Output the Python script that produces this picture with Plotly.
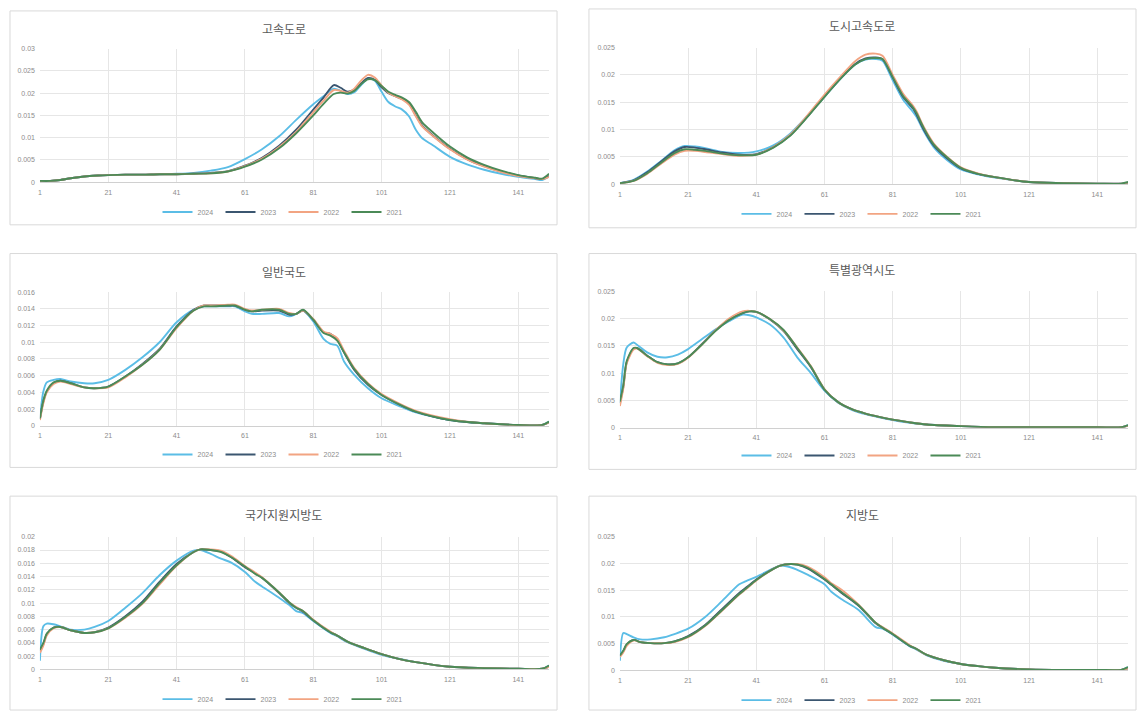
import plotly.graph_objects as go

W, H = 1138, 715

YEARS = ["2024", "2023", "2022", "2021"]
COLORS = {"2024": "#5bbde6", "2023": "#3b5670", "2022": "#f2a482", "2021": "#4b8a57"}
X_TICKS = [1, 21, 41, 61, 81, 101, 121, 141]

# 고속도로
HW_X = [1, 4, 7, 10, 14, 18, 21, 26, 31, 36, 41, 46, 51, 56, 61, 66, 71, 76, 81, 84, 87, 89, 91, 93, 95, 97, 99, 101,
        103, 105, 107, 109, 111, 113, 116, 121, 126, 131, 136, 141, 146, 148, 150]
HW_2024 = [.0003, .0003, .0005, .0009, .0013, .0015, .0016, .0017, .0017, .0018, .0019, .0021, .0026, .0034, .0052,
           .0074, .0103, .0140, .0175, .0193, .0210, .0205, .0198, .0202, .0218, .0232, .0228, .0203,
           .0180, .0170, .0163, .0148, .0118, .0098, .0083, .0057, .0040, .0028, .0019, .0012, .0007, .0005, .0013]
HW_2023 = [.0003, .0003, .0005, .0009, .0013, .0015, .0016, .0017, .0017, .0018, .0018, .0019, .0021, .0025, .0037,
           .0055, .0082, .0118, .0163, .0190, .0218, .0212, .0203, .0208, .0222, .0234, .0230, .0213,
           .0200, .0193, .0187, .0177, .0150, .0126, .0105, .0075, .0052, .0036, .0024, .0015, .0009, .0007, .0014]
HW_2022 = [.0003, .0003, .0005, .0009, .0013, .0015, .0016, .0017, .0017, .0018, .0018, .0019, .0020, .0024, .0036,
           .0053, .0079, .0113, .0157, .0183, .0207, .0205, .0201, .0210, .0228, .0241, .0235, .0217,
           .0201, .0193, .0186, .0174, .0148, .0124, .0104, .0074, .0051, .0035, .0023, .0014, .0009, .0007, .0012]
HW_2021 = [.0003, .0003, .0005, .0009, .0013, .0015, .0016, .0017, .0017, .0018, .0018, .0019, .0020, .0024, .0035,
           .0051, .0076, .0110, .0150, .0176, .0198, .0201, .0199, .0205, .0220, .0231, .0229, .0216,
           .0203, .0196, .0190, .0180, .0158, .0133, .0112, .0080, .0056, .0039, .0026, .0016, .0010, .0008, .0019]

# 도시고속도로
UE_X = [1, 5, 9, 13, 17, 20, 23, 26, 31, 36, 41, 46, 51, 56, 61, 66, 70, 73, 76, 78, 81, 84, 87, 88, 90,
        93, 97, 101, 106, 111, 121, 131, 141, 148, 150]
UE_2024 = [.0002, .0008, .0023, .0042, .0062, .0070, .0069, .0066, .0059, .0057, .0060, .0071, .0093, .0125, .0160,
           .0195, .0219, .0228, .0229, .0226, .0190, .0155, .0132, .0123, .0098,
           .0068, .0044, .0027, .0018, .0012, .0004, .0002, .0001, .0001, .0003]
UE_2023 = [.0002, .0007, .0022, .0041, .0060, .0068, .0067, .0064, .0058, .0054, .0055, .0068, .0090, .0124, .0161,
           .0196, .0220, .0230, .0232, .0229, .0195, .0160, .0138, .0127, .0101,
           .0071, .0047, .0029, .0019, .0013, .0004, .0002, .0001, .0001, .0003]
UE_2022 = [.0002, .0006, .0019, .0037, .0054, .0061, .0061, .0059, .0055, .0052, .0054, .0068, .0091, .0126, .0164,
           .0199, .0225, .0237, .0239, .0235, .0200, .0166, .0143, .0133, .0106,
           .0075, .0050, .0031, .0020, .0013, .0004, .0002, .0001, .0001, .0003]
UE_2021 = [.0002, .0006, .0020, .0039, .0057, .0064, .0063, .0061, .0056, .0053, .0054, .0067, .0089, .0123, .0160,
           .0195, .0219, .0229, .0231, .0229, .0196, .0162, .0140, .0130, .0104,
           .0073, .0049, .0030, .0019, .0013, .0004, .0002, .0001, .0001, .0004]

# 일반국도
NR_X = [1, 2, 3, 5, 7, 10, 14, 17, 21, 26, 31, 36, 41, 46, 49, 51, 56, 58, 61, 63, 66, 71, 74, 76, 78, 81,
        84, 86, 88, 90, 93, 97, 101, 106, 111, 121, 131, 141, 148, 150]
NR_2024 = [.0008, .0041, .0052, .0055, .0056, .0053, .0051, .0051, .0055, .0067, .0082, .0100, .0124, .0139, .0143,
           .0143, .0143, .0143, .0137, .0134, .0134, .0135, .0131, .0134, .0138, .0125,
           .0104, .0098, .0096, .0077, .0061, .0045, .0033, .0024, .0016, .0007, .0003, .0001, .0001, .0005]
NR_2023 = [.0008, .0029, .0041, .0051, .0054, .0051, .0046, .0045, .0047, .0059, .0074, .0092, .0119, .0139, .0144,
           .0144, .0144, .0144, .0139, .0137, .0138, .0138, .0133, .0134, .0138, .0127,
           .0112, .0110, .0103, .0088, .0067, .0049, .0037, .0026, .0017, .0007, .0003, .0001, .0001, .0004]
NR_2022 = [.0007, .0027, .0040, .0050, .0053, .0050, .0046, .0045, .0046, .0058, .0073, .0091, .0117, .0138, .0144,
           .0144, .0145, .0145, .0140, .0138, .0139, .0140, .0135, .0134, .0138, .0128,
           .0113, .0110, .0105, .0090, .0069, .0051, .0038, .0027, .0018, .0008, .0003, .0001, .0001, .0004]
NR_2021 = [.0009, .0030, .0042, .0052, .0054, .0051, .0046, .0045, .0047, .0059, .0073, .0091, .0118, .0138, .0143,
           .0143, .0144, .0144, .0139, .0137, .0139, .0139, .0134, .0134, .0139, .0127,
           .0111, .0108, .0102, .0088, .0068, .0050, .0037, .0026, .0017, .0007, .0003, .0001, .0001, .0005]

# 특별광역시도
MC_X = [1, 2, 3, 5, 6, 9, 12, 15, 18, 21, 25, 29, 33, 37, 39, 41, 45, 49, 53, 57,
        61, 65, 69, 73, 77, 81, 86, 91, 101, 111, 121, 141, 148, 150]
MC_2024 = [.0045, .0117, .0147, .0156, .0152, .0138, .0130, .0129, .0134, .0144,
           .0162, .0180, .0195, .0207, .0206, .0202, .0189, .0165, .0129, .0100,
           .0068, .0046, .0033, .0025, .0019, .0014, .0009, .0006, .0003, .0001, .0001, .0001, .0001, .0005]
MC_2023 = [.0045, .0075, .0120, .0145, .0146, .0132, .0120, .0116, .0118, .0129,
           .0153, .0178, .0198, .0210, .0213, .0212, .0198, .0177, .0144, .0111,
           .0070, .0047, .0034, .0026, .0020, .0015, .0010, .0006, .0003, .0001, .0001, .0001, .0001, .0004]
MC_2022 = [.0040, .0072, .0118, .0143, .0145, .0131, .0119, .0115, .0117, .0128,
           .0152, .0178, .0200, .0213, .0214, .0212, .0199, .0178, .0147, .0113,
           .0071, .0047, .0034, .0026, .0020, .0015, .0010, .0006, .0003, .0001, .0001, .0001, .0001, .0004]
MC_2021 = [.0048, .0078, .0122, .0146, .0146, .0132, .0120, .0116, .0118, .0129,
           .0152, .0177, .0197, .0210, .0213, .0212, .0199, .0179, .0146, .0112,
           .0070, .0047, .0034, .0026, .0020, .0015, .0010, .0006, .0003, .0001, .0001, .0001, .0001, .0005]

# 국가지원지방도
NS_X = [1, 2, 3, 5, 7, 10, 14, 17, 21, 26, 31, 36, 41, 46, 48, 51, 54, 57, 61, 64, 66, 71, 74, 76, 78, 81,
        86, 88, 91, 96, 101, 106, 111, 121, 131, 141, 148, 150]
NS_2024 = [.0013, .0065, .0069, .0068, .0065, .0060, .0060, .0064, .0073, .0093, .0115, .0142, .0164, .0179, .0180,
           .0174, .0167, .0161, .0147, .0132, .0125, .0108, .0097, .0088, .0085, .0073,
           .0055, .0050, .0041, .0031, .0022, .0016, .0011, .0004, .0002, .0001, .0001, .0006]
NS_2023 = [.0028, .0038, .0053, .0063, .0064, .0059, .0055, .0056, .0063, .0080, .0102, .0132, .0159, .0177, .0181,
           .0180, .0178, .0169, .0154, .0145, .0138, .0115, .0100, .0093, .0087, .0074,
           .0056, .0051, .0042, .0032, .0023, .0016, .0011, .0004, .0002, .0001, .0001, .0004]
NS_2022 = [.0025, .0036, .0051, .0062, .0064, .0059, .0055, .0056, .0062, .0078, .0099, .0128, .0156, .0177, .0181,
           .0181, .0179, .0171, .0156, .0146, .0139, .0116, .0101, .0094, .0088, .0075,
           .0057, .0051, .0042, .0032, .0023, .0016, .0011, .0004, .0002, .0001, .0001, .0004]
NS_2021 = [.0030, .0040, .0054, .0063, .0064, .0059, .0055, .0056, .0062, .0079, .0100, .0130, .0157, .0177, .0181,
           .0180, .0177, .0169, .0155, .0144, .0138, .0116, .0101, .0093, .0088, .0074,
           .0056, .0051, .0042, .0032, .0023, .0016, .0011, .0004, .0002, .0001, .0001, .0006]

# 지방도
LR_X = [1, 2, 3, 5, 7, 10, 14, 17, 21, 26, 31, 36, 38, 41, 46, 48, 51, 53, 56, 61, 63, 66, 71, 76, 78, 81,
        86, 88, 91, 96, 101, 106, 111, 121, 131, 141, 148, 150]
LR_2024 = [.0018, .0070, .0068, .0062, .0058, .0058, .0062, .0068, .0078, .0100, .0130, .0161, .0167, .0175, .0191,
           .0196, .0193, .0188, .0179, .0161, .0147, .0133, .0113, .0081, .0078, .0067,
           .0045, .0039, .0028, .0018, .0012, .0008, .0005, .0002, .0001, .0001, .0001, .0006]
LR_2023 = [.0027, .0036, .0048, .0057, .0053, .0051, .0051, .0054, .0064, .0085, .0115, .0145, .0155, .0170, .0190,
           .0196, .0199, .0198, .0191, .0170, .0160, .0145, .0121, .0088, .0080, .0068,
           .0046, .0040, .0029, .0019, .0012, .0008, .0005, .0002, .0001, .0001, .0001, .0004]
LR_2022 = [.0025, .0034, .0046, .0056, .0053, .0051, .0051, .0053, .0062, .0083, .0112, .0142, .0152, .0168, .0190,
           .0196, .0199, .0199, .0194, .0174, .0163, .0151, .0123, .0089, .0081, .0069,
           .0047, .0040, .0029, .0019, .0012, .0008, .0005, .0002, .0001, .0001, .0001, .0004]
LR_2021 = [.0028, .0037, .0049, .0057, .0053, .0051, .0051, .0054, .0063, .0084, .0113, .0143, .0153, .0169, .0190,
           .0196, .0199, .0198, .0192, .0171, .0161, .0146, .0122, .0089, .0080, .0068,
           .0046, .0040, .0029, .0019, .0012, .0008, .0005, .0002, .0001, .0001, .0001, .0006]

# panel: title, x, series, y max, y step, plot box (l, r, t, b px), frame box (l, t, r, b px), title y, legend y
PANELS = [
    ("고속도로", HW_X, [HW_2024, HW_2023, HW_2022, HW_2021], 0.03, 0.005,
     (38, 548, 45, 180), (8, 7, 556, 223), 25, 210),
    ("도시고속도로", UE_X, [UE_2024, UE_2023, UE_2022, UE_2021], 0.025, 0.005,
     (619, 1128, 44, 182), (588, 5, 1136, 226), 22, 212),
    ("일반국도", NR_X, [NR_2024, NR_2023, NR_2022, NR_2021], 0.016, 0.002,
     (38, 548, 291, 426), (8, 252, 556, 468), 270, 455),
    ("특별광역시도", MC_X, [MC_2024, MC_2023, MC_2022, MC_2021], 0.025, 0.005,
     (619, 1128, 290, 428), (588, 252, 1136, 470), 268, 456),
    ("국가지원지방도", NS_X, [NS_2024, NS_2023, NS_2022, NS_2021], 0.02, 0.002,
     (38, 548, 538, 672), (8, 497, 556, 713), 516, 702),
    ("지방도", LR_X, [LR_2024, LR_2023, LR_2022, LR_2021], 0.025, 0.005,
     (619, 1128, 538, 673), (588, 497, 1136, 713), 516, 703),
]


def fx(p):
    return p / W


def fy(p):
    return 1 - p / H


fig = go.Figure()
layout = dict(
    width=W, height=H, margin=dict(l=0, r=0, t=0, b=0),
    paper_bgcolor="white", plot_bgcolor="white",
    font=dict(family="Liberation Sans, Arial, sans-serif", color="#8c8c8c", size=7),
    shapes=[], annotations=[],
)

for i, (title, xs, series, ymax, ystep, plot, frame, ty, ly) in enumerate(PANELS, start=1):
    suf = "" if i == 1 else str(i)
    legend_name = "legend" + suf
    for year, ys in zip(YEARS, series):
        fig.add_trace(go.Scatter(
            x=xs, y=ys, mode="lines", name=year,
            line=dict(color=COLORS[year], width=1.9, shape="spline", smoothing=0.8),
            xaxis="x" + suf, yaxis="y" + suf, legend=legend_name,
            hoverinfo="x+y+name",
        ))
    l, r, t, b = plot
    layout["xaxis" + suf] = dict(
        domain=[fx(l), fx(r)], anchor="y" + suf, range=[1, 150],
        tickvals=X_TICKS, ticktext=[str(v) for v in X_TICKS],
        showgrid=True, gridcolor="#e6e6e6", gridwidth=1,
        showline=True, linecolor="#d0d0d0", linewidth=1,
        zeroline=False, ticks="", ticklabelstandoff=3,
        tickfont=dict(size=7, color="#8c8c8c"),
    )
    layout["yaxis" + suf] = dict(
        domain=[fy(b), fy(t)], anchor="x" + suf, range=[0, ymax], dtick=ystep,
        showgrid=True, gridcolor="#e6e6e6", gridwidth=1,
        zeroline=False, showline=False, ticks="", ticklabelstandoff=4,
        tickfont=dict(size=7, color="#8c8c8c"),
    )
    fl, ft, fr, fb = frame
    layout["shapes"].append(dict(
        type="rect", xref="paper", yref="paper",
        x0=fx(fl), x1=fx(fr), y0=fy(fb), y1=fy(ft),
        line=dict(color="#d9d9d9", width=1), fillcolor="rgba(0,0,0,0)", layer="below",
    ))
    cx = (fl + fr) / 2
    layout["annotations"].append(dict(
        text=title, xref="paper", yref="paper", x=fx(cx), y=fy(ty),
        xanchor="center", yanchor="middle", showarrow=False,
        font=dict(family="Noto Sans CJK KR", size=12, color="#595959"),
    ))
    layout[legend_name] = dict(
        orientation="h", x=fx(cx), y=fy(ly), xanchor="center", yanchor="middle",
        font=dict(size=7, color="#8c8c8c"), bgcolor="rgba(0,0,0,0)",
        itemwidth=30, entrywidth=18, entrywidthmode="pixels",
        tracegroupgap=0, traceorder="normal",
    )

fig.update_layout(**layout)
fig.write_html("out.html")
